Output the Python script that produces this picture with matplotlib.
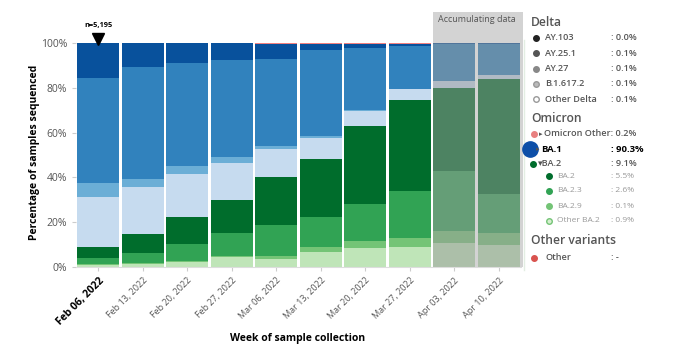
import numpy as np
import matplotlib
matplotlib.use('Agg')
import matplotlib.pyplot as plt
from matplotlib.patches import Rectangle

plt.rcParams['font.family'] = ['Open Sans', 'DejaVu Sans']

# Недели и доли вариантов (%), снизу вверх
weeks = ['Feb 06, 2022', 'Feb 13, 2022', 'Feb 20, 2022', 'Feb 27, 2022', 'Mar 06, 2022',
         'Mar 13, 2022', 'Mar 20, 2022', 'Mar 27, 2022', 'Apr 03, 2022', 'Apr 10, 2022']
other_ba2 = [1.1, 1.5, 2.2, 4.3, 3.7, 6.6, 8.4, 8.9, 10.6, 9.7]
ba29 = [0.2, 0.2, 0.3, 0.5, 1.1, 2.3, 3.1, 4.2, 5.4, 5.4]
ba23 = [2.5, 4.6, 7.6, 10.6, 14.0, 13.3, 16.5, 20.7, 26.8, 17.5]
ba2 = [5.1, 8.5, 12.0, 14.7, 21.3, 25.8, 35.0, 40.7, 37.2, 51.3]
ba1_light = [22.4, 20.7, 19.2, 16.4, 12.7, 9.8, 6.6, 4.8, 3.0, 1.8]
ba1_mid = [6.3, 3.9, 3.7, 2.5, 1.3, 0.9, 0.6, 0.3, 0.2, 0.2]
ba1_main = [46.9, 49.7, 46.1, 43.3, 38.8, 38.2, 27.7, 19.2, 16.5, 13.8]
ba1_dark = [15.5, 10.9, 8.9, 7.5, 6.8, 2.8, 1.6, 0.8, 0.1, 0.1]
omicron_other = [0.0, 0.0, 0.1, 0.2, 0.3, 0.3, 0.3, 0.3, 0.2, 0.2]
n_first = 'n=5,195'
accumulating = [8, 9]  # индексы недель с неполными данными

layers = [other_ba2, ba29, ba23, ba2, ba1_light, ba1_mid, ba1_main, ba1_dark, omicron_other]
colors = ['#bfe5b8', '#74c476', '#31a354', '#006d2c', '#c6dbef', '#6baed6', '#3182bd', '#08519c', '#f08080']


def faded(c):
    rgb = np.array(matplotlib.colors.to_rgb(c))
    return tuple(rgb * 0.5 + 0.6 * 0.5)


fig = plt.figure(figsize=(6.8, 3.52), dpi=100)
ax = fig.add_axes([76 / 680, 85 / 352, 445 / 680, 224 / 352])

x = np.arange(len(weeks))
bottom = np.zeros(len(weeks))
for vals, c in zip(layers, colors):
    cols = [faded(c) if i in accumulating else c for i in range(len(weeks))]
    ax.bar(x, vals, bottom=bottom, width=0.94, color=cols, linewidth=0, zorder=2)
    bottom += np.array(vals)

# серый блок "Accumulating data"
x0 = accumulating[0] - 0.5 + 0.03
ax.add_patch(Rectangle((x0, 0), len(accumulating) + 0.02, 114, color='#d3d3d3',
                       clip_on=False, zorder=1, linewidth=0))
ax.text(accumulating[0] + 0.5, 110.5, 'Accumulating data', ha='center', va='center',
        fontsize=6.5, color='#555555')

ax.set_xlim(-0.5, len(weeks) - 0.5)
ax.set_ylim(0, 100)
ax.set_yticks(range(0, 101, 20))
ax.set_yticklabels([f'{v}%' for v in range(0, 101, 20)], fontsize=7.5, color='#555555')
ax.set_xticks(x)
ax.set_xticklabels(weeks, rotation=45, ha='right', rotation_mode='anchor',
                   fontsize=6.5, color='#555555')
lab0 = ax.get_xticklabels()[0]
lab0.set_fontweight('bold')
lab0.set_fontsize(7.5)
lab0.set_color('black')
ax.tick_params(axis='both', length=3, color='#cccccc')
for s in ['top', 'right', 'left']:
    ax.spines[s].set_visible(False)
ax.spines['bottom'].set_color('#dddddd')

fig.text(35 / 680, 1 - 152 / 352, 'Percentage of samples sequenced', rotation=90,
         ha='center', va='center', fontsize=7.5, fontweight='bold')
fig.text(298 / 680, 1 - 339 / 352, 'Week of sample collection',
         ha='center', va='center', fontsize=7.5, fontweight='bold')

ax.plot([0], [101.8], marker='v', color='black', markersize=8, clip_on=False, zorder=5)
ax.text(0, 108, n_first, ha='center', va='center', fontsize=5.3, fontweight='bold')

# легенда в пикселях
lg = fig.add_axes([0, 0, 1, 1], facecolor='none')
lg.set_xlim(0, 680)
lg.set_ylim(352, 0)
lg.axis('off')
lg.plot([524, 524], [40, 270], color='#e3eee3', linewidth=1)

hdr = dict(fontsize=8.7, color='#555555', fontweight='semibold', va='center')
item = dict(fontsize=6.6, color='#555555', fontweight='semibold', va='center')
sub = dict(fontsize=6, color='#999999', va='center')

lg.text(531, 22, 'Delta', **hdr)
delta_names = ['AY.103', 'AY.25.1', 'AY.27', 'B.1.617.2', 'Other Delta']
delta_vals = [': 0.0%', ': 0.1%', ': 0.1%', ': 0.1%', ': 0.1%']
delta_cols = ['#222222', '#555555', '#888888', '#bbbbbb', 'white']
for i, (nm, v, c) in enumerate(zip(delta_names, delta_vals, delta_cols)):
    y = 38 + i * 15.3
    lg.plot(536, y, 'o', color=c, markeredgecolor='#999999' if i >= 3 else c, markersize=4)
    lg.text(545, y, nm, **item)
    lg.text(611, y, v, **item)

lg.text(531, 118, 'Omicron', **hdr)
lg.plot(534, 134, 'o', color='#e88080', markersize=4)
lg.text(539, 134, '▸', fontsize=5, color='#555555', va='center', family=['DejaVu Sans'])
lg.text(544, 134, 'Omicron Other: 0.2%', **item)

lg.plot(530, 149, 'o', color='#0d4fa8', markersize=11)
lg.text(536, 149, '▸', fontsize=5, color='#555555', va='center', family=['DejaVu Sans'])
lg.text(541, 149, 'BA.1', fontsize=6.8, fontweight='bold', color='black', va='center')
lg.text(611, 149, ': 90.3%', fontsize=6.8, fontweight='bold', color='black', va='center')

lg.plot(533, 164, 'o', color='#006d2c', markersize=4)
lg.text(538, 164, '▾BA.2', **item)
lg.text(611, 164, ': 9.1%', **item)

sub_names = ['BA.2', 'BA.2.3', 'BA.2.9', 'Other BA.2']
sub_vals = [': 5.5%', ': 2.6%', ': 0.1%', ': 0.9%']
sub_cols = ['#006d2c', '#31a354', '#74c476', '#d5efcf']
for i, (nm, v, c) in enumerate(zip(sub_names, sub_vals, sub_cols)):
    y = 176 + i * 15
    lg.plot(549, y, 'o', color=c, markeredgecolor='#74c476' if i == 3 else c, markersize=4)
    lg.text(557, y, nm, **sub)
    lg.text(611, y, v, **sub)

lg.text(531, 241, 'Other variants', **hdr)
lg.plot(534, 258, 'o', color='#d9534f', markersize=4)
lg.text(545, 258, 'Other', **item)
lg.text(611, 258, ': -', **item)

fig.savefig('out.png', dpi=100)
